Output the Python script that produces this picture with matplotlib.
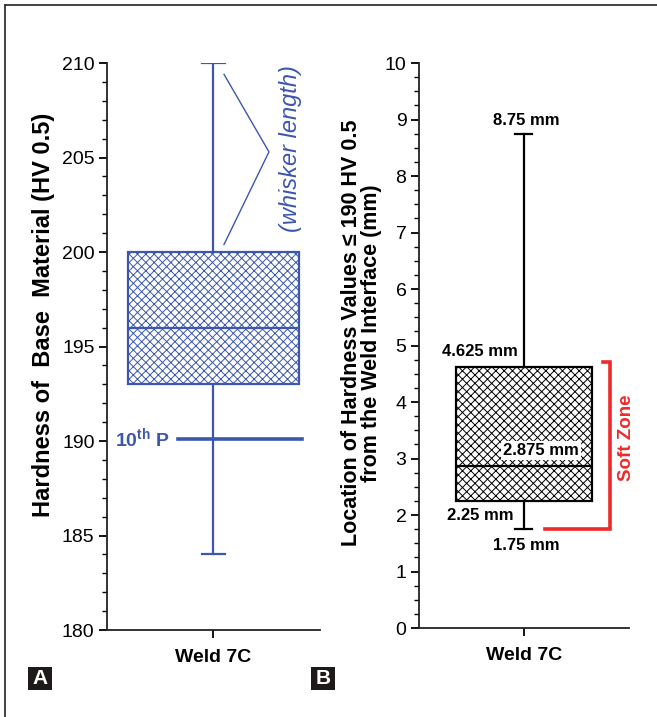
import matplotlib
matplotlib.use('Agg')
import matplotlib.pyplot as plt
from matplotlib.patches import Rectangle
from matplotlib.lines import Line2D
from matplotlib.ticker import MultipleLocator

# Panel A: hardness of base material
hardnessStats = {'whislo': 184.0, 'q1': 193.0, 'med': 196.0, 'q3': 200.0, 'whishi': 210.0}
hardnessP10 = 190.1
# Panel B: location of soft values
locationStats = {'whislo': 1.75, 'q1': 2.25, 'med': 2.875, 'q3': 4.625, 'whishi': 8.75}
softZone = [1.75, 4.7]
weldLabel = 'Weld 7C'

plt.rcParams['font.family'] = ['Liberation Sans', 'DejaVu Sans']
plt.rcParams['mathtext.fontset'] = 'custom'
plt.rcParams['mathtext.bf'] = 'Liberation Sans:bold'
plt.rcParams['mathtext.rm'] = 'Liberation Sans'
plt.rcParams['hatch.linewidth'] = 0.7

blue = '#3b57ae'
red = '#ee2a2a'
fontSize = 13

fig = plt.figure(figsize=(6.57, 7.17), dpi=100)
axA = fig.add_axes([0.1629, 0.1213, 0.3241, 0.7908])
axB = fig.add_axes([0.6377, 0.1241, 0.3197, 0.7880])


def drawBox(ax, s, color, width, capw, lw):
  st = dict(s)
  st['fliers'] = []
  st['label'] = weldLabel
  bp = ax.bxp([st], positions=[1], widths=[width], patch_artist=True,
              capwidths=[capw], manage_ticks=False,
              boxprops=dict(facecolor='white', edgecolor=color, linewidth=lw, hatch='xxxx'),
              medianprops=dict(color=color, linewidth=lw),
              whiskerprops=dict(color=color, linewidth=lw),
              capprops=dict(color=color, linewidth=lw))
  bp['boxes'][0].set_edgecolor(color)
  return bp


def styleAxis(ax, color='black'):
  for side in ['top', 'right']:
    ax.spines[side].set_visible(False)
  for side in ['left', 'bottom']:
    ax.spines[side].set_linewidth(1.3)
    ax.spines[side].set_color('#222222')
  ax.set_xlim(0, 2)
  ax.set_xticks([1])
  ax.set_xticklabels([weldLabel], fontsize=fontSize + 1, fontweight='bold')
  ax.tick_params(axis='x', direction='out', length=6, width=1.3, pad=8)
  ax.tick_params(axis='y', which='major', direction='out', length=6, width=1.3, labelsize=fontSize + 1, pad=3)
  ax.tick_params(axis='y', which='minor', direction='out', length=3.5, width=1.0)


# ---- Panel A
drawBox(axA, hardnessStats, blue, 1.615, 0.216, 1.6)
axA.plot([0.667, 1.831], [hardnessP10, hardnessP10], color=blue, linewidth=2.6)
axA.text(0.59, hardnessP10, r'10$^{\mathbf{th}}$ P', color=blue, fontsize=fontSize + 1, fontweight='bold',
         ha='right', va='center')
axA.plot([1.099, 1.521, 1.099], [209.4, 205.3, 200.4], color=blue, linewidth=1.0)
axA.text(1.72, 205.5, '(whisker length)', color=blue, fontsize=17, style='italic',
         rotation=90, ha='center', va='center')
axA.set_ylim(180, 210)
axA.yaxis.set_major_locator(MultipleLocator(5))
axA.yaxis.set_minor_locator(MultipleLocator(1))
styleAxis(axA)
axA.set_ylabel('Hardness of  Base  Material (HV 0.5)', fontsize=17, fontweight='bold', labelpad=5, y=0.556)

# ---- Panel B
drawBox(axB, locationStats, 'black', 1.286, 0.162, 1.6)
axB.plot([1.752, 1.819, 1.819, 1.2], [softZone[1], softZone[1], softZone[0], softZone[0]],
         color=red, linewidth=2.6, solid_joinstyle='miter')
axB.text(1.98, 3.36, 'Soft Zone', color=red, fontsize=fontSize + 0.5, fontweight='bold',
         rotation=90, ha='center', va='center')
annFont = dict(fontsize=fontSize - 1, fontweight='bold')
axB.text(1.02, locationStats['whishi'] + 0.1, '%.2f mm' % locationStats['whishi'], ha='center', va='bottom', **annFont)
axB.text(0.94, locationStats['q3'] + 0.27, '%.3f mm' % locationStats['q3'], ha='right', va='center', **annFont)
axB.text(1.52, locationStats['med'] + 0.26, '%.3f mm' % locationStats['med'], ha='right', va='center',
         bbox=dict(facecolor='white', edgecolor='none', pad=1.5), **annFont)
axB.text(0.9, locationStats['q1'] - 0.25, '%.2f mm' % locationStats['q1'], ha='right', va='center', **annFont)
axB.text(1.02, locationStats['whislo'] - 0.29, '%.2f mm' % locationStats['whislo'], ha='center', va='center', **annFont)
axB.set_ylim(0, 10)
axB.yaxis.set_major_locator(MultipleLocator(1))
axB.yaxis.set_minor_locator(MultipleLocator(0.25))
styleAxis(axB)
axB.set_ylabel('Location of Hardness Values \u2264 190 HV 0.5\nfrom the Weld Interface (mm)',
               fontsize=15.5, fontweight='bold', labelpad=2, linespacing=0.95, y=0.522)

# ---- panel letters
for cx, letter in [(0.0609, 'A'), (0.4916, 'B')]:
  fig.add_artist(Rectangle((cx - 12 / 657, 0.0537 - 11.5 / 717), 24 / 657, 23 / 717,
                           transform=fig.transFigure, facecolor='#1e1a1a', edgecolor='none'))
  fig.text(cx, 0.0537, letter, color='white', fontsize=15, fontweight='bold', ha='center', va='center')

# ---- frame (left and top edges)
fig.add_artist(Line2D([5 / 657, 5 / 657], [0, 1 - 5 / 717], transform=fig.transFigure, color='#333333', linewidth=1.3))
fig.add_artist(Line2D([5 / 657, 1], [1 - 5 / 717, 1 - 5 / 717], transform=fig.transFigure, color='#333333', linewidth=1.3))

plt.savefig('out.png', dpi=100)
